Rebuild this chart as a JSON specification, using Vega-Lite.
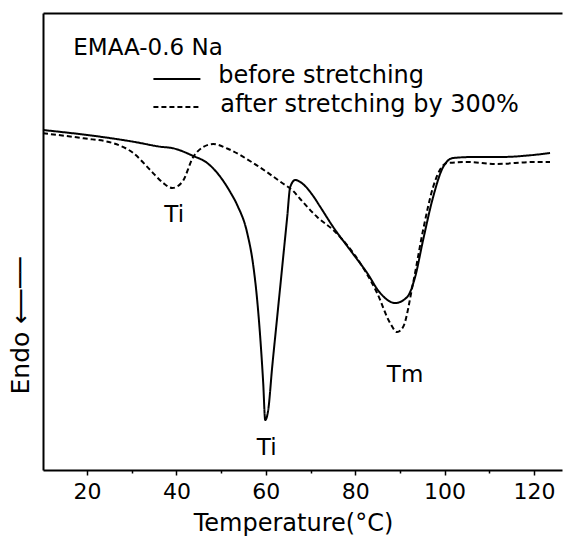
{
  "$schema": "https://vega.github.io/schema/vega-lite/v6.json",
  "width": 519,
  "height": 457,
  "autosize": "none",
  "padding": {"left": 43, "top": 13, "right": 1, "bottom": 70},
  "background": "white",
  "config": {
    "view": {"stroke": null},
    "font": "DejaVu Sans",
    "axis": {
      "grid": false,
      "domainColor": "black",
      "domainWidth": 2,
      "tickColor": "black",
      "tickWidth": 1.5,
      "labelColor": "black",
      "titleColor": "black",
      "labelFont": "DejaVu Sans",
      "titleFont": "DejaVu Sans",
      "labelFontWeight": "normal",
      "titleFontWeight": "normal"
    },
    "text": {"font": "DejaVu Sans", "fontWeight": "normal", "color": "black"}
  },
  "datasets": {
    "dsc": [
      {"t": 10.16, "v": 340, "run": "before"},
      {"t": 22.97, "v": 333.3, "run": "before"},
      {"t": 30.35, "v": 328.3, "run": "before"},
      {"t": 36.39, "v": 323.3, "run": "before"},
      {"t": 39.29, "v": 321.7, "run": "before"},
      {"t": 43.77, "v": 314, "run": "before"},
      {"t": 46.9, "v": 307, "run": "before"},
      {"t": 49.8, "v": 293.3, "run": "before"},
      {"t": 52.04, "v": 278, "run": "before"},
      {"t": 53.6, "v": 265, "run": "before"},
      {"t": 55.84, "v": 237, "run": "before"},
      {"t": 57.18, "v": 205, "run": "before"},
      {"t": 58.07, "v": 170, "run": "before"},
      {"t": 58.75, "v": 133, "run": "before"},
      {"t": 59.42, "v": 87, "run": "before"},
      {"t": 59.87, "v": 50, "run": "before"},
      {"t": 60.54, "v": 60, "run": "before"},
      {"t": 61.43, "v": 103, "run": "before"},
      {"t": 62.55, "v": 153, "run": "before"},
      {"t": 63.67, "v": 203, "run": "before"},
      {"t": 64.79, "v": 253, "run": "before"},
      {"t": 65.46, "v": 283, "run": "before"},
      {"t": 66.58, "v": 290, "run": "before"},
      {"t": 67.7, "v": 288, "run": "before"},
      {"t": 70.6, "v": 274, "run": "before"},
      {"t": 72.2, "v": 263, "run": "before"},
      {"t": 75.07, "v": 243, "run": "before"},
      {"t": 78.87, "v": 220, "run": "before"},
      {"t": 82.67, "v": 197, "run": "before"},
      {"t": 85.58, "v": 177, "run": "before"},
      {"t": 88.93, "v": 167, "run": "before"},
      {"t": 91.62, "v": 173, "run": "before"},
      {"t": 93.4, "v": 193, "run": "before"},
      {"t": 95.19, "v": 230, "run": "before"},
      {"t": 97.43, "v": 273, "run": "before"},
      {"t": 99.67, "v": 303, "run": "before"},
      {"t": 101.9, "v": 312, "run": "before"},
      {"t": 106.37, "v": 313, "run": "before"},
      {"t": 112.4, "v": 313, "run": "before"},
      {"t": 119.78, "v": 315, "run": "before"},
      {"t": 123.58, "v": 317, "run": "before"},
      {"t": 10.16, "v": 336.7, "run": "after"},
      {"t": 19.24, "v": 331.7, "run": "after"},
      {"t": 25.95, "v": 326.7, "run": "after"},
      {"t": 30.42, "v": 316.7, "run": "after"},
      {"t": 34.15, "v": 300, "run": "after"},
      {"t": 37.06, "v": 287, "run": "after"},
      {"t": 39.07, "v": 282, "run": "after"},
      {"t": 41.31, "v": 288, "run": "after"},
      {"t": 43.77, "v": 313, "run": "after"},
      {"t": 46.0, "v": 323, "run": "after"},
      {"t": 48.24, "v": 326, "run": "after"},
      {"t": 51.37, "v": 321.5, "run": "after"},
      {"t": 57.18, "v": 307, "run": "after"},
      {"t": 63.67, "v": 287, "run": "after"},
      {"t": 66.13, "v": 279, "run": "after"},
      {"t": 67.7, "v": 271, "run": "after"},
      {"t": 71.49, "v": 253, "run": "after"},
      {"t": 75.07, "v": 240, "run": "after"},
      {"t": 81.1, "v": 207, "run": "after"},
      {"t": 84.9, "v": 177, "run": "after"},
      {"t": 87.81, "v": 147, "run": "after"},
      {"t": 89.37, "v": 138, "run": "after"},
      {"t": 90.71, "v": 143, "run": "after"},
      {"t": 92.95, "v": 187, "run": "after"},
      {"t": 95.19, "v": 240, "run": "after"},
      {"t": 97.43, "v": 283, "run": "after"},
      {"t": 100.56, "v": 307, "run": "after"},
      {"t": 105.03, "v": 308, "run": "after"},
      {"t": 111.74, "v": 306, "run": "after"},
      {"t": 119.78, "v": 308, "run": "after"},
      {"t": 123.58, "v": 308, "run": "after"}
    ],
    "key": [
      {"t": 34.86, "t2": 45.37, "v": 391, "run": "before", "label": "before stretching", "tl": 49.35, "vl": 387.5},
      {"t": 34.86, "t2": 45.37, "v": 363, "run": "after", "label": "after stretching by 300%", "tl": 49.8, "vl": 358}
    ],
    "sample": [
      {"t": 16.94, "v": 415.5, "label": "EMAA-0.6 Na"}
    ],
    "peaks": [
      {"t": 39.5, "v": 248, "label": "Ti"},
      {"t": 60.2, "v": 15, "label": "Ti"},
      {"t": 91.16, "v": 88, "label": "Tm"}
    ]
  },
  "layer": [
    {
      "data": {"name": "dsc"},
      "mark": {"type": "line", "interpolate": "monotone", "color": "black", "strokeWidth": 2},
      "encoding": {
        "x": {
          "field": "t",
          "type": "quantitative",
          "scale": {"domain": [10.16, 126.26], "nice": false, "zero": false},
          "axis": {
            "orient": "bottom",
            "values": [20, 30, 40, 50, 60, 70, 80, 90, 100, 110, 120],
            "labelExpr": "datum.value % 20 === 0 ? datum.label : ''",
            "tickSize": {"condition": {"test": "datum.value % 20 === 0", "value": 5}, "value": 3},
            "labelFontSize": 22,
            "labelPadding": 6,
            "labelFlush": false,
            "title": "Temperature(°C)",
            "titleFontSize": 24,
            "titleBaseline": "alphabetic",
            "titleX": 250,
            "titleY": 60,
            "titleAlign": "center"
          }
        },
        "y": {
          "field": "v",
          "type": "quantitative",
          "scale": {"domain": [0, 457], "nice": false, "zero": false},
          "axis": {
            "ticks": false,
            "labels": false,
            "title": "Endo  ⟵──",
            "titleFontSize": 25,
            "titleAngle": 270,
            "titleAlign": "left",
            "titleBaseline": "alphabetic",
            "titleX": -15,
            "titleY": 381
          }
        },
        "detail": {"field": "run"},
        "strokeDash": {
          "field": "run",
          "type": "nominal",
          "scale": {"domain": ["before", "after"], "range": [[1, 0], [5, 3]]},
          "legend": null
        }
      }
    },
    {
      "data": {"name": "key"},
      "mark": {"type": "rule", "color": "black", "strokeWidth": 2},
      "encoding": {
        "x": {
          "field": "t",
          "type": "quantitative",
          "axis": {"orient": "top", "labels": false, "ticks": false, "title": null}
        },
        "x2": {"field": "t2"},
        "y": {"field": "v", "type": "quantitative"},
        "strokeDash": {
          "field": "run",
          "type": "nominal",
          "scale": {"domain": ["before", "after"], "range": [[1, 0], [5, 3]]},
          "legend": null
        }
      }
    },
    {
      "data": {"name": "key"},
      "mark": {"type": "text", "fontSize": 24, "align": "left", "baseline": "alphabetic"},
      "encoding": {
        "x": {"field": "tl", "type": "quantitative", "axis": null},
        "y": {"field": "vl", "type": "quantitative"},
        "text": {"field": "label"}
      }
    },
    {
      "data": {"name": "sample"},
      "mark": {"type": "text", "fontSize": 23, "align": "left", "baseline": "alphabetic"},
      "encoding": {
        "x": {"field": "t", "type": "quantitative", "axis": null},
        "y": {"field": "v", "type": "quantitative"},
        "text": {"field": "label"}
      }
    },
    {
      "data": {"name": "peaks"},
      "mark": {"type": "text", "fontSize": 23, "align": "center", "baseline": "alphabetic"},
      "encoding": {
        "x": {"field": "t", "type": "quantitative", "axis": null},
        "y": {"field": "v", "type": "quantitative"},
        "text": {"field": "label"}
      }
    }
  ],
  "resolve": {"axis": {"x": "independent"}}
}
